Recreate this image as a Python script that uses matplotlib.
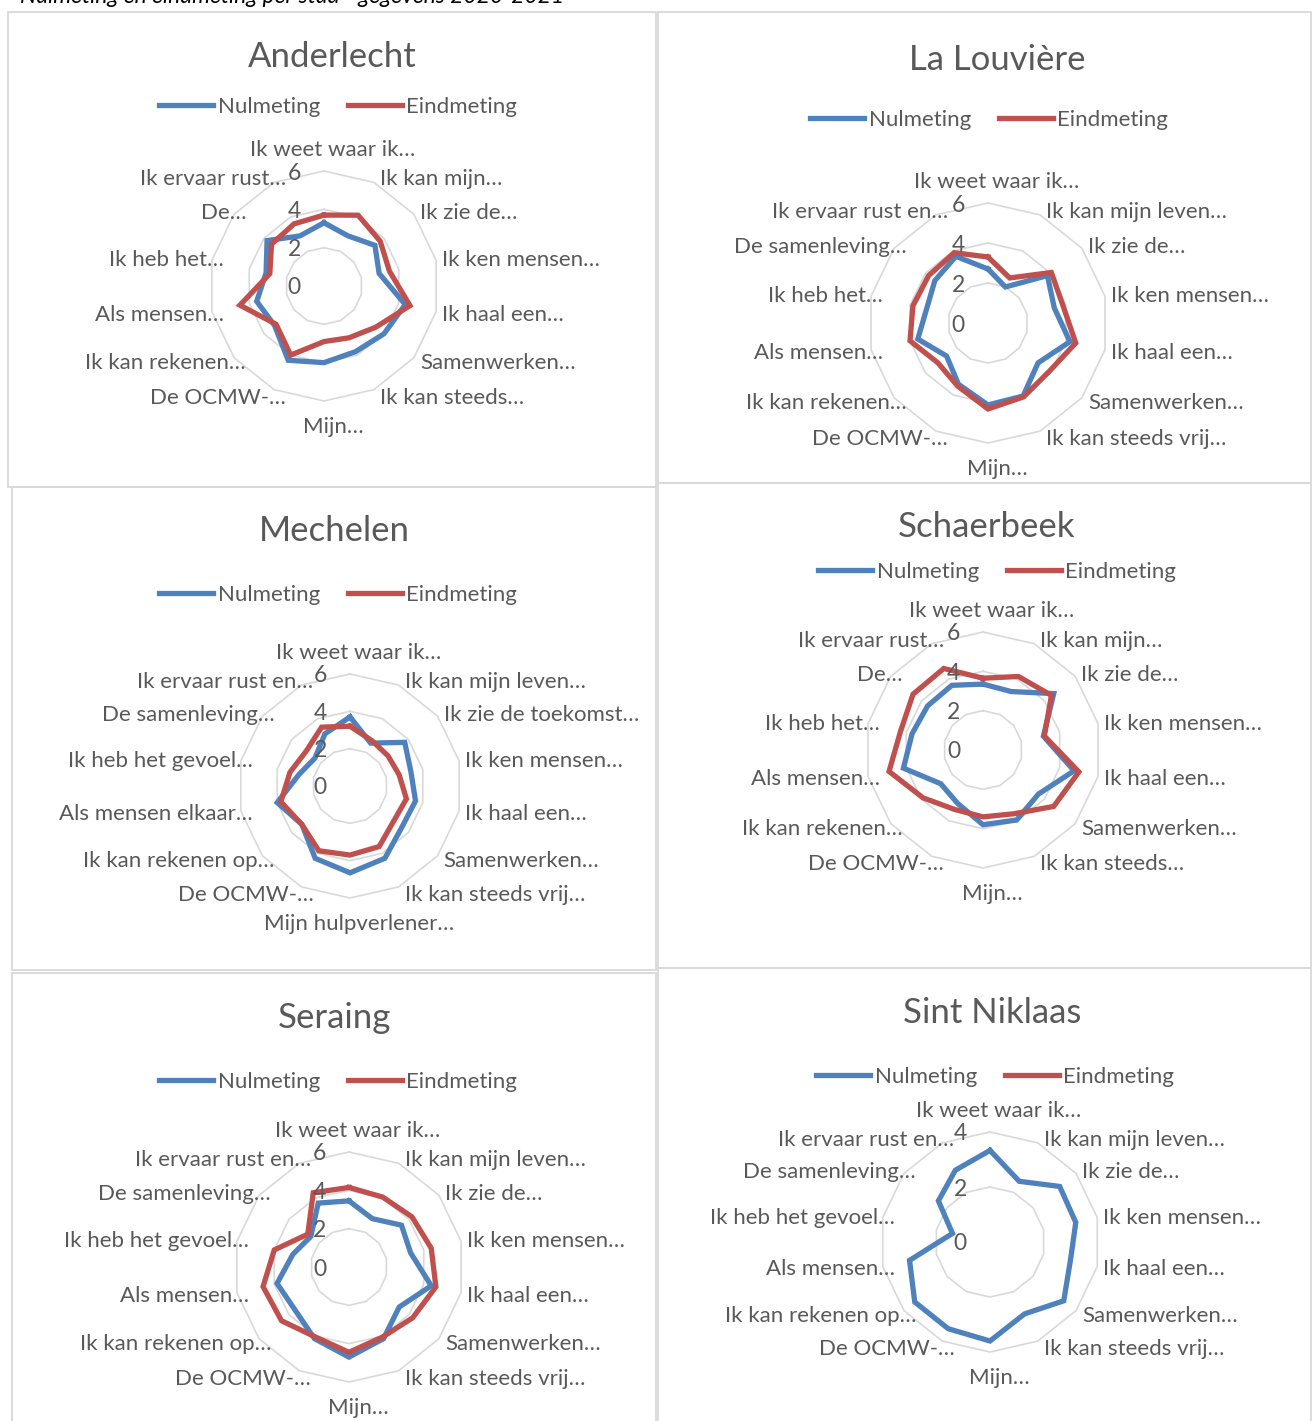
import numpy as np
import matplotlib
matplotlib.use("Agg")
import matplotlib.pyplot as plt
from matplotlib.lines import Line2D
from matplotlib.patches import Rectangle
from matplotlib.transforms import offset_copy

plt.rcParams['font.family'] = ['Lato', 'DejaVu Sans']

# ---------------- data ----------------
series_names = ["Nulmeting", "Eindmeting"]
cities = ["Anderlecht", "La Louvière", "Mechelen", "Schaerbeek", "Seraing", "Sint Niklaas"]

labels_anderlecht = ["Ik weet waar ik…", "Ik kan mijn…", "Ik zie de…", "Ik ken mensen…",
                     "Ik haal een…", "Samenwerken…", "Ik kan steeds…", "Mijn…", "De OCMW-…",
                     "Ik kan rekenen…", "Als mensen…", "Ik heb het…", "De…", "Ik ervaar rust…"]
labels_la_louviere = ["Ik weet waar ik…", "Ik kan mijn leven…", "Ik zie de…", "Ik ken mensen…",
                      "Ik haal een…", "Samenwerken…", "Ik kan steeds vrij…", "Mijn…", "De OCMW-…",
                      "Ik kan rekenen…", "Als mensen…", "Ik heb het…", "De samenleving…",
                      "Ik ervaar rust en…"]
labels_mechelen = ["Ik weet waar ik…", "Ik kan mijn leven…", "Ik zie de toekomst…",
                   "Ik ken mensen…", "Ik haal een…", "Samenwerken…", "Ik kan steeds vrij…",
                   "Mijn hulpverlener…", "De OCMW-…", "Ik kan rekenen op…", "Als mensen elkaar…",
                   "Ik heb het gevoel…", "De samenleving…", "Ik ervaar rust en…"]
labels_schaerbeek = ["Ik weet waar ik…", "Ik kan mijn…", "Ik zie de…", "Ik ken mensen…",
                     "Ik haal een…", "Samenwerken…", "Ik kan steeds…", "Mijn…", "De OCMW-…",
                     "Ik kan rekenen…", "Als mensen…", "Ik heb het…", "De…", "Ik ervaar rust…"]
labels_seraing = ["Ik weet waar ik…", "Ik kan mijn leven…", "Ik zie de…", "Ik ken mensen…",
                  "Ik haal een…", "Samenwerken…", "Ik kan steeds vrij…", "Mijn…", "De OCMW-…",
                  "Ik kan rekenen op…", "Als mensen…", "Ik heb het gevoel…", "De samenleving…",
                  "Ik ervaar rust en…"]
labels_sint_niklaas = ["Ik weet waar ik…", "Ik kan mijn leven…", "Ik zie de…", "Ik ken mensen…",
                       "Ik haal een…", "Samenwerken…", "Ik kan steeds vrij…", "Mijn…", "De OCMW-…",
                       "Ik kan rekenen op…", "Als mensen…", "Ik heb het gevoel…",
                       "De samenleving…", "Ik ervaar rust en…"]

nul_anderlecht = [3.3, 2.9, 3.4, 2.95, 4.35, 4.0, 3.8, 4.0, 4.3, 3.3, 3.6, 3.1, 3.8, 2.9]
eind_anderlecht = [3.7, 4.1, 3.75, 3.5, 4.6, 3.45, 3.0, 2.9, 4.0, 3.2, 4.5, 2.9, 3.5, 3.6]
nul_la_louviere = [2.7, 2.0, 3.8, 3.4, 4.2, 3.2, 4.05, 4.1, 3.4, 2.65, 3.6, 3.15, 3.4, 3.7]
eind_la_louviere = [3.3, 2.5, 4.05, 3.85, 4.5, 3.9, 4.1, 4.3, 3.5, 3.2, 4.0, 3.85, 3.8, 3.9]
nul_mechelen = [3.7, 2.55, 3.75, 3.35, 3.6, 3.55, 4.3, 4.65, 4.3, 3.3, 4.0, 2.8, 2.4, 3.1]
eind_mechelen = [3.2, 2.7, 2.6, 2.7, 3.1, 3.0, 3.6, 3.7, 3.85, 3.3, 3.8, 3.3, 3.0, 3.5]
nul_schaerbeek = [3.35, 3.3, 4.6, 3.15, 4.75, 3.6, 3.95, 3.8, 3.0, 2.75, 4.15, 3.7, 3.6, 3.65]
eind_schaerbeek = [3.65, 4.15, 4.45, 3.2, 5.0, 4.6, 3.6, 3.4, 3.35, 3.9, 4.9, 4.3, 4.55, 4.6]
nul_seraing = [3.45, 2.8, 3.5, 3.3, 4.4, 3.35, 4.15, 4.7, 4.15, 3.6, 3.85, 3.0, 2.55, 3.7]
eind_seraing = [4.15, 4.05, 4.2, 4.4, 4.65, 4.25, 4.05, 4.45, 4.05, 4.5, 4.6, 4.0, 2.75, 4.3]
nul_sint_niklaas = [3.33, 2.45, 3.24, 3.2, 3.0, 3.43, 2.9, 3.6, 3.5, 3.5, 3.0, 1.4, 2.4, 2.9]
eind_sint_niklaas = []

ticks_six = [0, 2, 4, 6]
ticks_four = [0, 2, 4]

top_text = "Nulmeting en eindmeting per stad - gegevens 2020-2021"

# ---------------- layout (pixels) ----------------
W, H, DPI = 1312, 1421, 100
BLUE, RED = "#4F81BD", "#C0504D"
GRID, TXT, BOX = "#d9d9d9", "#595959", "#d9d9d9"

panels = [
    dict(labels=labels_anderlecht, nul=nul_anderlecht, eind=eind_anderlecht, ticks=ticks_six,
         c=(324, 286), R=115, title=(332, 57), leg=(338, 107), box=(8, 12, 656, 487)),
    dict(labels=labels_la_louviere, nul=nul_la_louviere, eind=eind_la_louviere, ticks=ticks_six,
         c=(988, 323), R=120, title=(997, 60), leg=(989, 120), box=(658, 12, 1311, 483)),
    dict(labels=labels_mechelen, nul=nul_mechelen, eind=eind_mechelen, ticks=ticks_six,
         c=(350, 786), R=112, title=(334, 531), leg=(338, 595), box=(12, 487, 656, 970)),
    dict(labels=labels_schaerbeek, nul=nul_schaerbeek, eind=eind_schaerbeek, ticks=ticks_six,
         c=(983, 750), R=118, title=(987, 527), leg=(997, 572), box=(658, 483, 1311, 968)),
    dict(labels=labels_seraing, nul=nul_seraing, eind=eind_seraing, ticks=ticks_six,
         c=(349, 1267), R=115, title=(335, 1018), leg=(338, 1082), box=(12, 973, 656, 1425)),
    dict(labels=labels_sint_niklaas, nul=nul_sint_niklaas, eind=eind_sint_niklaas, ticks=ticks_four,
         c=(990, 1242), R=110, title=(992, 1013), leg=(995, 1077), box=(658, 968, 1311, 1425)),
]

LABEL_FS = 16
TICK_FS = 16.5
TITLE_FS = 25
LEG_FS = 16
LW = 3.8


def fx(x):
    return x / W


def fy(y):
    return 1 - y / H


fig = plt.figure(figsize=(W / DPI, H / DPI), dpi=DPI)
fig.patch.set_facecolor("white")

fig.text(fx(20), fy(3), top_text, fontsize=16.4, style="italic", color="black",
         ha="left", va="baseline")

# label offsets (px, image y down) per axis index
side_dy = {1: -3, 2: -1, 3: 0, 4: 3, 5: 5, 6: 8}

for city, p in zip(cities, panels):
    x0, y0, x1, y1 = p["box"]
    fig.patches.append(Rectangle((fx(x0), fy(y1)), (x1 - x0) / W, (y1 - y0) / H,
                                 transform=fig.transFigure, fill=False,
                                 edgecolor=BOX, lw=1.3, zorder=0))
    fig.text(fx(p["title"][0]), fy(p["title"][1]), city, fontsize=TITLE_FS, color=TXT,
             ha="center", va="center")

    cx, cy = p["c"]
    R = p["R"]
    ax = fig.add_axes([fx(cx - R), fy(cy + R), 2 * R / W, 2 * R / H], projection="polar")
    ax.set_theta_zero_location("N")
    ax.set_theta_direction(-1)
    rmax = p["ticks"][-1]
    ax.set_ylim(0, rmax)
    ax.set_xticks([])
    ax.set_yticks([])
    ax.grid(False)
    ax.spines["polar"].set_visible(False)
    ax.patch.set_alpha(0)

    n = len(p["labels"])
    theta = np.arange(n) * 2 * np.pi / n
    theta_c = np.append(theta, theta[0])

    for v in p["ticks"][1:]:
        ax.plot(theta_c, [v] * (n + 1), color=GRID, lw=1.2, zorder=1, clip_on=False)

    for v in p["ticks"]:
        tr = offset_copy(ax.transData, fig=fig, x=-23, y=-2, units="dots")
        ax.text(0, v, str(v), transform=tr, fontsize=TICK_FS, color=TXT,
                ha="right", va="center", zorder=5)

    if len(p["nul"]):
        ax.plot(theta_c, list(p["nul"]) + [p["nul"][0]], color=BLUE, lw=LW, zorder=3,
                solid_joinstyle="miter", clip_on=False)
    if len(p["eind"]):
        ax.plot(theta_c, list(p["eind"]) + [p["eind"][0]], color=RED, lw=LW, zorder=4,
                solid_joinstyle="miter", clip_on=False)

    for k, lab in enumerate(p["labels"]):
        if k == 0:
            dx, dy, ha = 9, -21, "center"
        elif k == n // 2:
            dx, dy, ha = 9, 26, "center"
        elif k < n // 2:
            dx, dy, ha = 6, side_dy[k], "left"
        else:
            dx, dy, ha = 12, side_dy[n - k], "right"
        tr = offset_copy(ax.transData, fig=fig, x=dx, y=-dy, units="dots")
        ax.text(theta[k], rmax, lab, transform=tr, fontsize=LABEL_FS, color=TXT,
                ha=ha, va="center")

    handles = [Line2D([], [], color=BLUE, lw=LW), Line2D([], [], color=RED, lw=LW)]
    fig.legend(handles, series_names, loc="center",
               bbox_to_anchor=(fx(p["leg"][0]), fy(p["leg"][1])), ncol=2, frameon=False,
               fontsize=LEG_FS, handlelength=2.45, handletextpad=0.2, columnspacing=1.25,
               labelcolor=TXT, borderpad=0, borderaxespad=0)

fig.savefig("out.png", dpi=DPI, facecolor="white")
